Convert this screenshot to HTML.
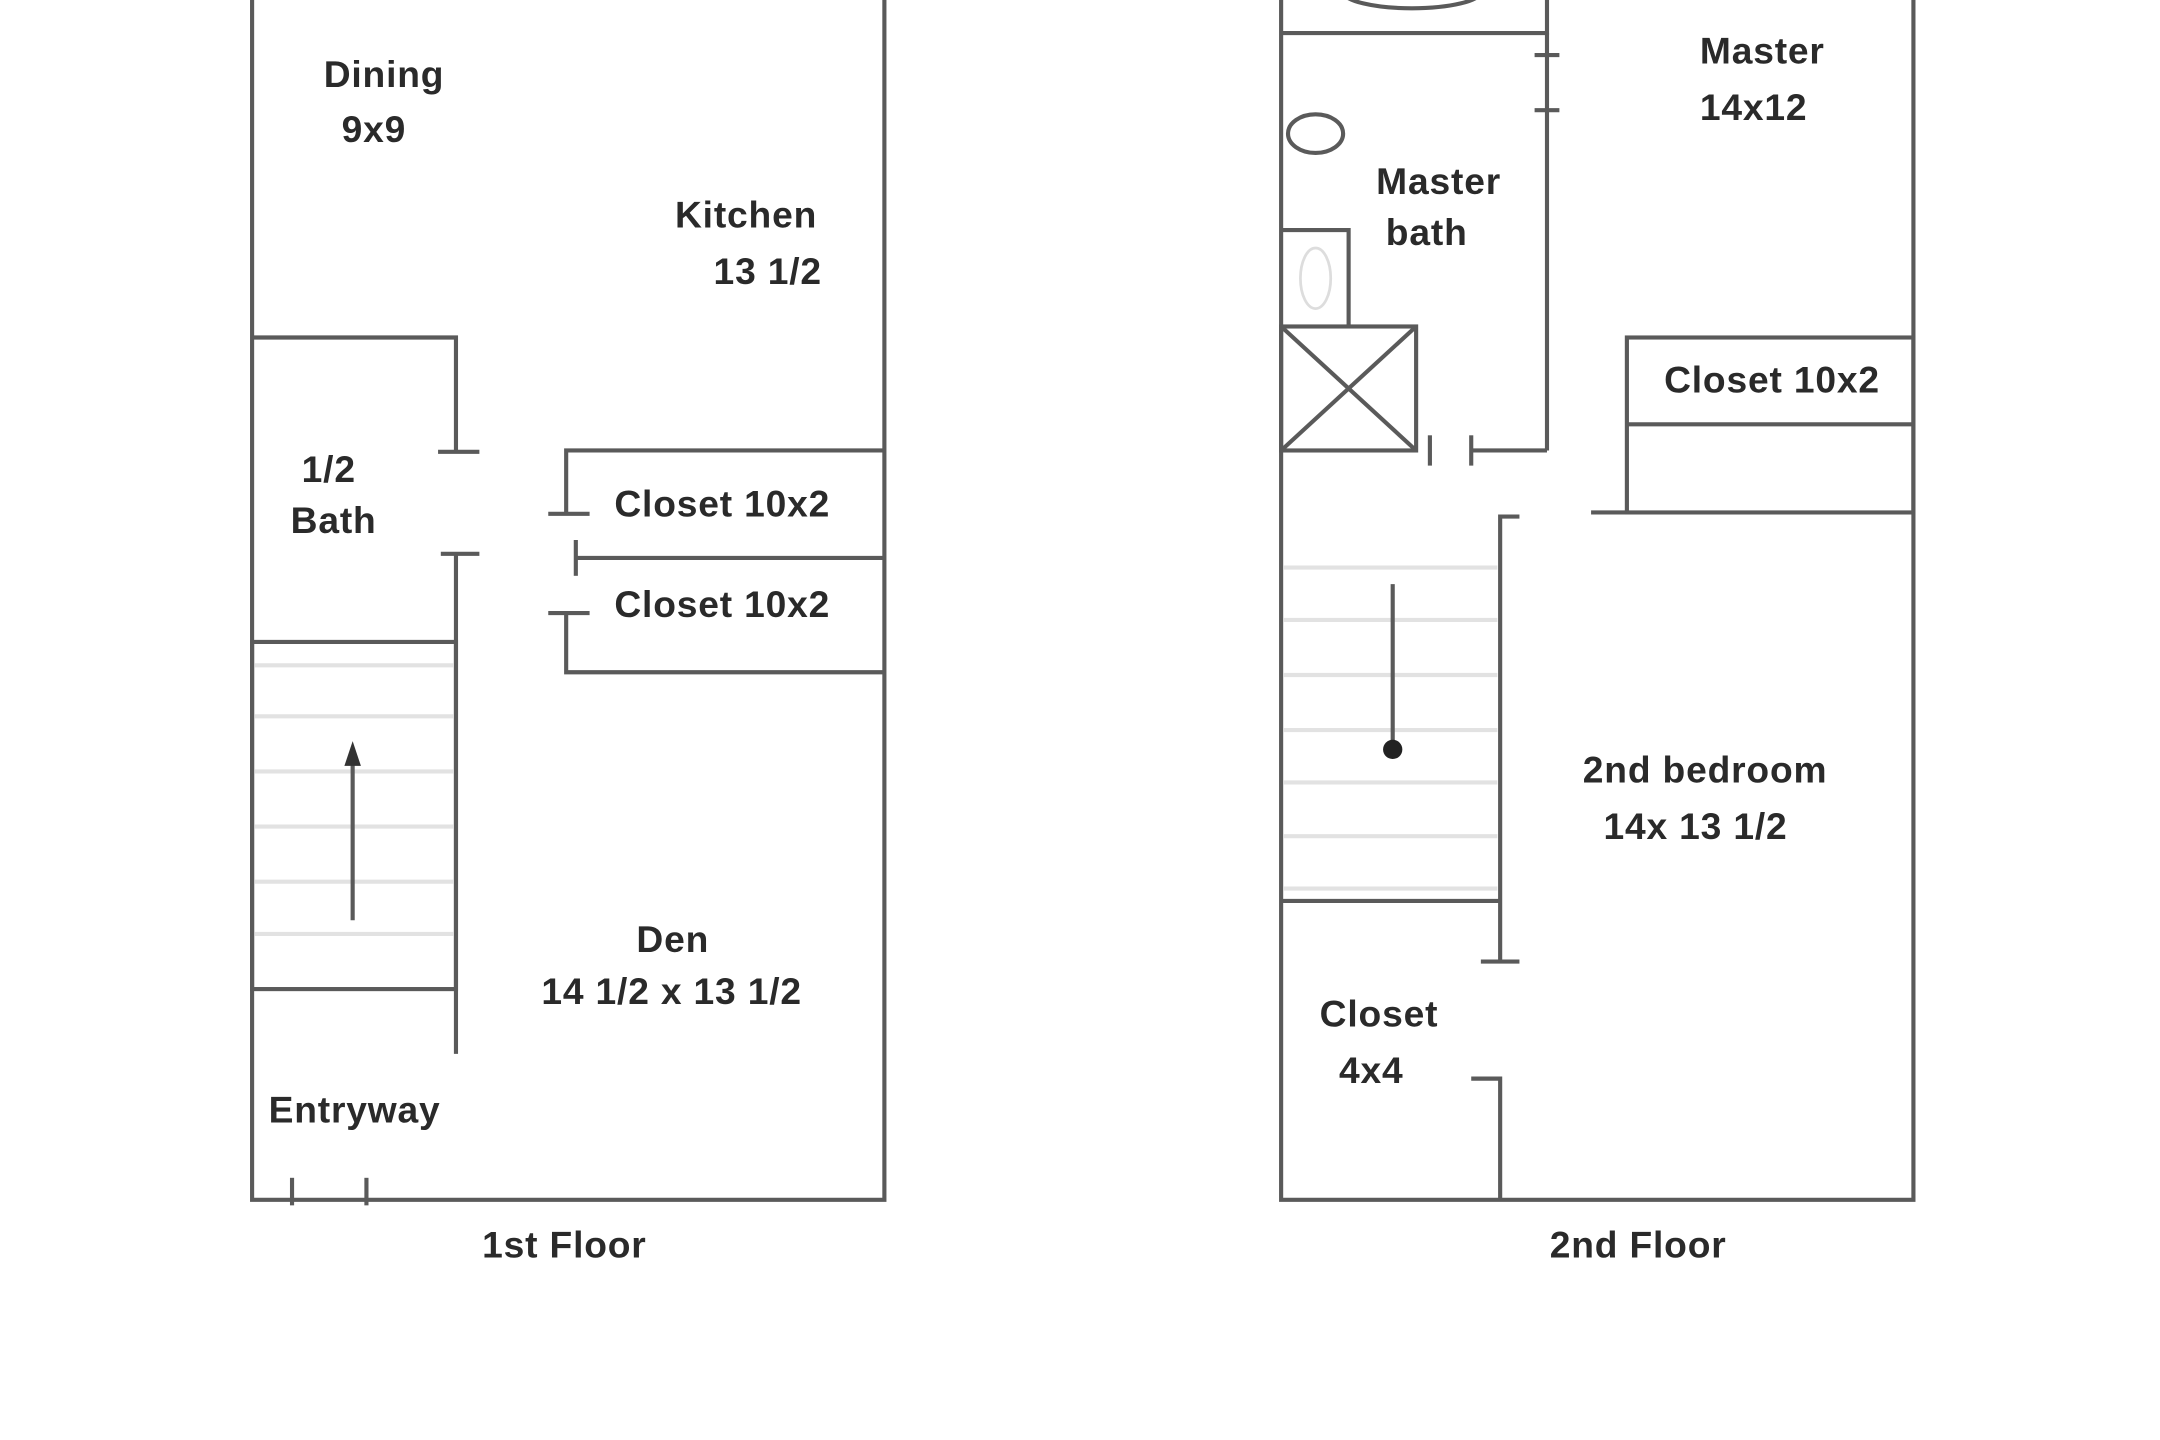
<!DOCTYPE html>
<html><head><meta charset="utf-8"><style>
html,body{margin:0;padding:0;background:#fff;width:2160px;height:1440px;overflow:hidden}
svg{display:block}
text{font-family:"Liberation Sans",sans-serif;font-size:27px;font-weight:bold;fill:#2a2a2a;letter-spacing:0.6px}
</style></head><body>
<svg width="2160" height="1440" viewBox="0 0 1568 1045.33" preserveAspectRatio="none">
<g stroke="#e2e2e2" stroke-width="3">
<line x1="185" y1="483" x2="329" y2="483"/><line x1="185" y1="520" x2="329" y2="520"/>
<line x1="185" y1="560" x2="329" y2="560"/><line x1="185" y1="600" x2="329" y2="600"/>
<line x1="185" y1="640" x2="329" y2="640"/><line x1="185" y1="678" x2="329" y2="678"/>
<line x1="932" y1="412" x2="1087" y2="412"/><line x1="932" y1="450" x2="1087" y2="450"/>
<line x1="932" y1="490" x2="1087" y2="490"/><line x1="932" y1="530" x2="1087" y2="530"/>
<line x1="932" y1="568" x2="1087" y2="568"/><line x1="932" y1="607" x2="1087" y2="607"/>
<line x1="932" y1="645" x2="1087" y2="645"/>
</g>
<g stroke="#5a5a5a" stroke-width="3" fill="none">
<polyline points="183,0 183,871 642,871 642,0"/>
<polyline points="183,245 331,245 331,328"/><line x1="318" y1="328" x2="348" y2="328"/>
<line x1="320" y1="402" x2="348" y2="402"/><line x1="331" y1="402" x2="331" y2="765"/>
<rect x="183" y="466" width="148" height="252"/>
<line x1="256" y1="668" x2="256" y2="550"/>
<polyline points="642,327 411,327 411,373"/><line x1="398" y1="373" x2="428" y2="373"/>
<line x1="418" y1="405" x2="642" y2="405"/><line x1="418" y1="392" x2="418" y2="418"/>
<line x1="398" y1="445" x2="428" y2="445"/><polyline points="411,445 411,488 642,488"/>
<line x1="212" y1="855" x2="212" y2="875"/><line x1="266" y1="855" x2="266" y2="875"/>
<polyline points="930,0 930,871 1389,871 1389,0"/>
<polyline points="930,24 1123,24 1123,0"/>
<line x1="1123" y1="24" x2="1123" y2="327"/>
<line x1="1114" y1="40" x2="1132" y2="40"/><line x1="1114" y1="80" x2="1132" y2="80"/>
<line x1="1068" y1="327" x2="1123" y2="327"/><line x1="1068" y1="316" x2="1068" y2="338"/>
<line x1="1038" y1="316" x2="1038" y2="338"/>
<rect x="930" y="237" width="98" height="90"/><line x1="930" y1="237" x2="1028" y2="327"/><line x1="1028" y1="237" x2="930" y2="327"/>
<polyline points="930,167 979,167 979,237"/>
<ellipse cx="955" cy="97" rx="20" ry="14"/>
<ellipse cx="1025" cy="-6" rx="50" ry="12"/>
<rect x="1181" y="245" width="208" height="127"/><line x1="1181" y1="308" x2="1389" y2="308"/>
<line x1="1155" y1="372" x2="1181" y2="372"/>
<polyline points="1103,375 1089,375 1089,698"/><line x1="1075" y1="698" x2="1103" y2="698"/>
<line x1="930" y1="654" x2="1089" y2="654"/>
<polyline points="1068,783 1089,783 1089,871"/>
<line x1="1011" y1="424" x2="1011" y2="540"/>
</g>
<ellipse cx="955" cy="202" rx="11" ry="22" fill="none" stroke="#ddd" stroke-width="2"/>
<polygon points="256,538 250,556 262,556" fill="#333"/>
<circle cx="1011" cy="544" r="7" fill="#222"/>
<text x="235" y="63">Dining</text><text x="248" y="103">9x9</text>
<text x="490" y="165">Kitchen</text><text x="518" y="206">13 1/2</text>
<text x="219" y="350">1/2</text><text x="211" y="387">Bath</text>
<text x="446" y="375">Closet 10x2</text><text x="446" y="448">Closet 10x2</text>
<text x="462" y="691">Den</text><text x="393" y="729">14 1/2 x 13 1/2</text>
<text x="195" y="815">Entryway</text>
<text x="350" y="913">1st Floor</text>
<text x="1234" y="46">Master</text><text x="1234" y="87">14x12</text>
<text x="999" y="141">Master</text><text x="1006" y="178">bath</text>
<text x="1208" y="285">Closet 10x2</text>
<text x="1149" y="568">2nd bedroom</text><text x="1164" y="609">14x 13  1/2</text>
<text x="958" y="745">Closet</text><text x="972" y="786">4x4</text>
<text x="1125" y="913">2nd Floor</text>
</svg>
</body></html>
